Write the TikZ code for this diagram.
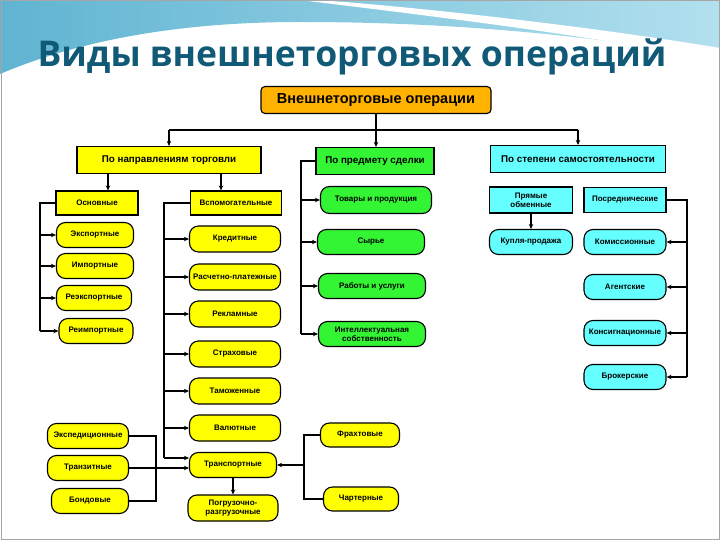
\documentclass[tikz,border=0pt]{standalone}
\usepackage{fontspec}
\setmainfont{Liberation Sans}
\setsansfont{Liberation Sans}
\newfontfamily\titlefont{Open Sans}
\usetikzlibrary{arrows.meta,positioning}
\definecolor{opsorange}{RGB}{255,178,0}
\definecolor{opsyellow}{RGB}{255,255,0}
\definecolor{opsgreen}{RGB}{51,245,51}
\definecolor{opscyan}{RGB}{102,255,255}
\definecolor{titleblue}{RGB}{16,90,120}
\definecolor{waveA}{RGB}{96,180,210}
\definecolor{waveB}{RGB}{178,224,238}

\begin{document}
\begin{tikzpicture}[x=1bp,y=-1bp,>={Stealth[length=5bp,width=4.5bp]},
  box/.style={draw=black,line width=1.1bp,inner sep=1bp,align=center,
    font=\bfseries\fontsize{8bp}{9bp}\selectfont},
  pill/.style={box,rounded corners=9bp},
  lvl/.style={box,minimum height=27bp,font=\bfseries\fontsize{9.8bp}{11bp}\selectfont},
  ykid/.style={pill,fill=opsyellow,minimum height=25bp},
  gkid/.style={pill,fill=opsgreen,minimum height=25bp,minimum width=107bp},
  ckid/.style={pill,fill=opscyan,minimum height=25bp,minimum width=82bp},
  link/.style={line width=1.1bp}]
  \useasboundingbox (0,0) rectangle (720,540);
  % slide background: wave at the top
  \shade[left color=waveA,right color=waveB]
       (0,0) -- (720,0) -- (720,58) .. controls (560,30) and (420,22) .. (300,22)
       .. controls (180,22) and (80,40) .. (0,74) -- cycle;
  \fill[white] (318,0) .. controls (430,8) and (600,28) .. (720,48) -- (720,62)
       .. controls (600,36) and (430,16) .. (300,0) -- cycle;
  \draw[gray!70,line width=1bp] (1,1) rectangle (719,539);
  \node[font=\titlefont\bfseries\fontsize{35.5bp}{38bp}\selectfont,text=titleblue,anchor=base]
       (title) at (352,67) {Виды внешнеторговых операций};

  % root and the three criteria
  \node[box,fill=opsorange,rounded corners=4bp,minimum width=230bp,minimum height=27bp,
        font=\bfseries\fontsize{14.5bp}{16bp}\selectfont] (root) at (376,100) {Внешнеторговые операции};
  \node[lvl,fill=opsyellow,minimum width=184bp] (dir) at (169,160) {По направлениям торговли};
  \node[lvl,fill=opsgreen,minimum width=118bp] (subj) at (375,161) {По предмету сделки};
  \node[lvl,fill=opscyan,minimum width=175bp] (indep) at (578,159) {По степени самостоятельности};

  % by direction of trade
  \node[box,fill=opsyellow,minimum width=82bp,minimum height=24bp] (main) at (97,203) {Основные};
  \node[box,fill=opsyellow,minimum width=91bp,minimum height=24bp] (aux) at (236,203) {Вспомогательные};
  \node[ykid,minimum width=77bp] (exp) at (95,235) {Экспортные};
  \node[ykid,minimum width=77bp] (imp) at (95,266) {Импортные};
  \node[ykid,minimum width=75bp] (reexp) at (94,298) {Реэкспортные};
  \node[ykid,minimum width=74bp] (reimp) at (96,331) {Реимпортные};
  \node[ykid,minimum width=91bp,minimum height=26bp] (cred) at (235,239) {Кредитные};
  \node[ykid,minimum width=91bp,minimum height=26bp] (pay) at (235,277) {Расчетно-платежные};
  \node[ykid,minimum width=91bp,minimum height=26bp] (adv) at (235,314) {Рекламные};
  \node[ykid,minimum width=91bp,minimum height=26bp] (ins) at (235,354) {Страховые};
  \node[ykid,minimum width=91bp,minimum height=26bp] (cust) at (235,391) {Таможенные};
  \node[ykid,minimum width=91bp,minimum height=26bp] (curr) at (235,428) {Валютные};
  \node[ykid,minimum width=87bp] (trans) at (233,465) {Транспортные};
  \node[ykid,minimum width=90bp,minimum height=26bp] (load) at (233,508) {Погрузочно-\\разгрузочные};
  \node[ykid,minimum width=81bp] (exped) at (88,436) {Экспедиционные};
  \node[ykid,minimum width=81bp] (transit) at (88,468) {Транзитные};
  \node[ykid,minimum width=77bp] (bond) at (90,501) {Бондовые};
  \node[ykid,minimum width=79bp,minimum height=24bp] (fracht) at (360,435) {Фрахтовые};
  \node[ykid,minimum width=75bp,minimum height=24bp] (charter) at (361,499) {Чартерные};

  % by subject of the deal
  \node[gkid,minimum width=111bp,minimum height=27bp] (goods) at (376,200) {Товары и продукция};
  \node[gkid] (raw) at (371,242) {Сырье};
  \node[gkid] (works) at (372,286) {Работы и услуги};
  \node[gkid] (intel) at (372,334) {Интеллектуальная\\собственность};

  % by degree of independence
  \node[box,fill=opscyan,minimum width=83bp,minimum height=26bp] (direct) at (531,200) {Прямые\\обменные};
  \node[box,fill=opscyan,minimum width=82bp,minimum height=25bp] (interm) at (625,200) {Посреднические};
  \node[ckid,minimum width=83bp] (sale) at (531,242) {Купля-продажа};
  \node[ckid] (comm) at (625,242) {Комиссионные};
  \node[ckid] (agent) at (625,287) {Агентские};
  \node[ckid] (consign) at (625,333) {Консигнационные};
  \node[ckid] (broker) at (625,377) {Брокерские};

  % bus lines
  \coordinate (bar) at (376,130);
  \coordinate (mainarr) at (108,0);
  \coordinate (auxarr) at (221,0);
  \coordinate (mainbus) at (40,0);
  \coordinate (auxbus) at (164,0);
  \coordinate (bondbus) at (156,0);
  \coordinate (subjbus) at (301,0);
  \coordinate (freightbus) at (304,0);
  \coordinate (interbus) at (687,0);

  \draw[link,->] (root.south) -- (root.south |- subj.north);
  \draw[link] (bar -| dir.north) -- (bar -| indep.north);
  \draw[link,->] (bar -| dir.north) -- (dir.north);
  \draw[link,->] (bar -| indep.north) -- (indep.north);
  \draw[link,->] (dir.south -| mainarr) -- (main.north -| mainarr);
  \draw[link,->] (dir.south -| auxarr) -- (aux.north -| auxarr);

  \draw[link] (main.west) -- (main.west -| mainbus) -- (reimp.west -| mainbus);
  \foreach \n in {exp,imp,reexp,reimp}
    \draw[link,->] (\n.west -| mainbus) -- (\n.west);

  \draw[link] (aux.west) -- (aux.west -| auxbus) -- ([yshift=7bp]trans.west -| auxbus);
  \foreach \n in {cred,pay,adv,ins,cust,curr}
    \draw[link,->] (\n.west -| auxbus) -- (\n.west);
  \draw[link,->] ([yshift=7bp]trans.west -| auxbus) -- ([yshift=7bp]trans.west);
  \draw[link,->] (trans.south) -- (load.north);

  \draw[link] (exped.east) -- (exped.east -| bondbus) -- (bond.east -| bondbus) -- (bond.east);
  \draw[link,->] (transit.east) -- (transit.east -| trans.west);

  \draw[link] (fracht.west) -- (fracht.west -| freightbus) -- (charter.west -| freightbus) -- (charter.west);
  \draw[link,->] (freightbus |- trans.east) -- (trans.east);

  \draw[link] (subj.west) -- (subj.west -| subjbus) -- (intel.west -| subjbus);
  \foreach \n in {goods,raw,works,intel}
    \draw[link,->] (\n.west -| subjbus) -- (\n.west);

  \draw[link,->] (direct.south) -- (sale.north);
  \draw[link] (interm.east) -- (interm.east -| interbus) -- (broker.east -| interbus);
  \foreach \n in {comm,agent,consign,broker}
    \draw[link,->] (\n.east -| interbus) -- (\n.east);
\end{tikzpicture}
\end{document}
